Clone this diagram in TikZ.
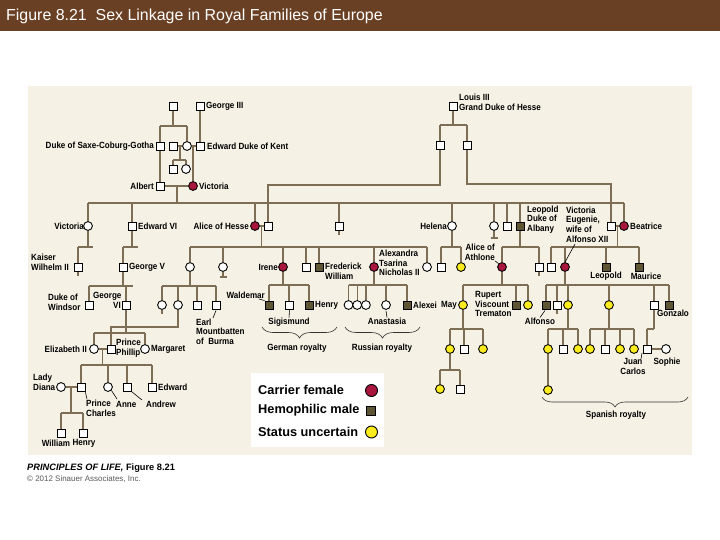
\documentclass[tikz,border=0pt]{standalone}
\usepackage{fontspec}
\setmainfont{Liberation Sans}
\newfontfamily\labfont[FakeStretch=0.9]{Liberation Sans}
\usetikzlibrary{decorations.pathreplacing}
\definecolor{headc}{RGB}{106,64,36}
\definecolor{chartbg}{RGB}{246,241,229}
\definecolor{linec}{RGB}{125,110,85}
\definecolor{carrier}{RGB}{168,22,62}
\definecolor{hemo}{RGB}{95,85,50}
\definecolor{unsure}{RGB}{252,236,30}
\pgfdeclarelayer{back}
\pgfdeclarelayer{bg}
\pgfsetlayers{back,bg,main}
\newcommand\pdrop[2]{\draw[conn] (#1) -- (#1 |- 0,#2);}
\newcommand\pbar[3]{\draw[conn] (#1 |- 0,#3) -- (#2 |- 0,#3);}
\begin{document}
\begin{tikzpicture}[x=1bp,y=-1bp,
  sq/.style={rectangle,draw=black,fill=white,minimum size=8bp,inner sep=0pt,line width=0.9bp},
  ci/.style={circle,draw=black,fill=white,minimum size=8.8bp,inner sep=0pt,line width=0.9bp},
  hm/.style={sq,fill=hemo},
  cf/.style={ci,fill=carrier},
  su/.style={ci,fill=unsure},
  conn/.style={draw=linec,line width=1.4bp},
  lead/.style={draw=black,line width=0.6bp},
  brc/.style={draw=black!80,line width=0.6bp,decorate,decoration={brace,amplitude=11bp}},
  lbl/.style={font=\labfont\bfseries\fontsize{9}{9.8}\selectfont,inner sep=0pt,align=left},
  lblr/.style={lbl,align=right},
  lblc/.style={lbl,align=center},
  legt/.style={font=\bfseries\fontsize{12.8}{14}\selectfont,inner sep=0pt,anchor=west}]
\useasboundingbox (0,0) rectangle (720,540);
\begin{pgfonlayer}{back}
\fill[white] (0,0) rectangle (720,540);
\fill[headc] (0,0) rectangle (720,31);
\fill[chartbg] (28,86) rectangle (692,455);
\end{pgfonlayer}
\node[anchor=base west,inner sep=0pt,text=white,font=\fontsize{16}{17}\selectfont] (title) at (6,21) {Figure 8.21\ \ Sex Linkage in Royal Families of Europe};

% ---------- symbols ----------
\node[sq] (g0a) at (173,106) {};
\node[sq] (g3) at (200,106) {};
\node[sq] (l3) at (453,106) {};
\node[sq] (dsc) at (160,146) {};
\node[sq] (g1b) at (173,146) {};
\node[ci] (g1c) at (187,146) {};
\node[sq] (ekent) at (200,146) {};
\node[sq] (lh1) at (440,145) {};
\node[sq] (lh2) at (467,145) {};
\node[sq] (g1d) at (173,169) {};
\node[ci] (g1e) at (186,169) {};
\node[sq] (albert) at (160,186) {};
\node[cf] (victoria) at (193,186) {};
% generation 3
\node[ci] (vicd) at (88,226) {};
\node[sq] (edw6) at (132,226) {};
\node[cf] (alice) at (255,226) {};
\node[sq] (louis4) at (268,226) {};
\node[sq] (alfred) at (339,226) {};
\node[ci] (helena) at (452,226) {};
\node[ci] (louise) at (494,226) {};
\node[sq] (arthur) at (507,226) {};
\node[hm] (leopold) at (520,226) {};
\node[sq] (henryb) at (611,226) {};
\node[cf] (beatrice) at (624,226) {};
% generation 4
\node[sq] (kaiser) at (78,267) {};
\node[sq] (george5) at (123,267) {};
\node[ci] (vich) at (190,267) {};
\node[ci] (ella) at (223,267) {};
\node[cf] (irene) at (283,267) {};
\node[sq] (ernest) at (306,267) {};
\node[hm] (fredw) at (319,267) {};
\node[cf] (alexandra) at (374,267) {};
\node[ci] (mayh) at (427,267) {};
\node[sq] (hel1) at (441,267) {};
\node[su] (hel2) at (461,267) {};
\node[cf] (alicea) at (502,267) {};
\node[sq] (charlesa) at (539,267) {};
\node[sq] (alexb) at (551,267) {};
\node[cf] (vice) at (565,267) {};
\node[hm] (leopb) at (606,267) {};
\node[hm] (maurice) at (639,267) {};
% generation 5
\node[sq] (windsor) at (89,305) {};
\node[sq] (george6) at (126,305) {};
\node[ci] (h1) at (162,305) {};
\node[ci] (aliceb) at (178,305) {};
\node[sq] (h3) at (197,305) {};
\node[sq] (mountb) at (216,305) {};
\node[hm] (waldemar) at (269,305) {};
\node[sq] (sigis) at (289,305) {};
\node[hm] (henryp) at (309,305) {};
\node[ci] (r1) at (348.5,305) {};
\node[ci] (r2) at (357.2,305) {};
\node[ci] (r3) at (365.9,305) {};
\node[ci] (anast) at (386,305) {};
\node[hm] (alexei) at (407,305) {};
\node[su] (maya) at (463,305) {};
\node[hm] (rupert) at (516,305) {};
\node[su] (a3) at (528,305) {};
\node[hm] (alfonso) at (546,305) {};
\node[sq] (s2) at (557,305) {};
\node[su] (s3) at (568,305) {};
\node[su] (s4) at (609,305) {};
\node[sq] (s5) at (654,305) {};
\node[hm] (gonzalo) at (669,305) {};
% generation 6
\node[ci] (eliz) at (94,349) {};
\node[sq] (philip) at (111,349) {};
\node[ci] (margaret) at (145,349) {};
\node[su] (m1) at (450,349) {};
\node[sq] (m2) at (464,349) {};
\node[su] (m3) at (483,349) {};
\node[su] (p1) at (548,349) {};
\node[sq] (p2) at (563,349) {};
\node[su] (p3) at (578,349) {};
\node[su] (q1) at (590,349) {};
\node[sq] (q2) at (605,349) {};
\node[su] (q3) at (620,349) {};
\node[su] (q4) at (634,349) {};
\node[sq] (juan) at (647,349) {};
\node[ci] (sophie) at (666,349) {};
% generation 7
\node[ci] (diana) at (61,387) {};
\node[sq] (charles) at (81,387) {};
\node[ci] (anne) at (108,387) {};
\node[sq] (andrew) at (127,387) {};
\node[sq] (edward) at (152,387) {};
\node[su] (n1) at (440,389) {};
\node[sq] (n2) at (460,389) {};
\node[su] (p1b) at (548,390) {};
% generation 8
\node[sq] (william) at (61,433) {};
\node[sq] (henryw) at (83,433) {};

% ---------- connectors ----------
\begin{pgfonlayer}{bg}
\pdrop{g0a}{126} \pbar{dsc}{g1c}{126} \pdrop{dsc}{126} \pdrop{g1c}{126}
\draw[conn] (g3) -- (ekent);
\draw[conn] (g1b) -- (g1c);
\draw[conn] (g1c) -- (ekent);
\coordinate (d1) at (180,146);
\pdrop{d1}{160} \pbar{g1d}{g1e}{160} \pdrop{g1d}{160} \pdrop{g1e}{160}
\coordinate (d2) at (193,146);
\draw[conn] (d2) -- (victoria);
\draw[conn] (dsc) -- (albert);
\draw[conn] (albert) -- (victoria);
\coordinate (d3) at (177,186);
\pdrop{d3}{203}
\pbar{vicd}{beatrice}{203}
\pdrop{vicd}{203} \pdrop{edw6}{203} \pdrop{alice}{203} \pdrop{alfred}{203}
\pdrop{helena}{203} \pdrop{louise}{203} \pdrop{arthur}{203} \pdrop{leopold}{203}
\pdrop{beatrice}{203}
% Hesse
\pdrop{l3}{125} \pbar{lh1}{lh2}{125} \pdrop{lh1}{125} \pdrop{lh2}{125}
\draw[conn] (lh1) -- (lh1 |- 0,185) -- (louis4 |- 0,185) -- (louis4);
\draw[conn] (lh2) -- (lh2 |- 0,184) -- (henryb |- 0,184) -- (henryb);
\draw[conn] (alfred) -- ++(0,9);
\draw[conn] (louise) -- ++(0,12) coordinate (lt) (lt) ++(-3.5,0) -- ++(7,0);
\draw[conn] (alice) -- (louis4);
\draw[conn] (henryb) -- (beatrice);
% generation 4 families
\coordinate (d4) at (261.5,226);
\pdrop{d4}{247} \pbar{vich}{mayh}{247}
\pdrop{vich}{247} \pdrop{ella}{247} \pdrop{irene}{247} \pdrop{ernest}{247}
\pdrop{fredw}{247} \pdrop{alexandra}{247} \pdrop{mayh}{247}
\draw[conn] (ella) -- ++(0,10) coordinate (et) (et) ++(-3.5,0) -- ++(7,0);
\pdrop{helena}{247} \pbar{hel1}{hel2}{247} \pdrop{hel1}{247} \pdrop{hel2}{247}
\pdrop{leopold}{247} \pbar{alicea}{charlesa}{247} \pdrop{alicea}{247} \pdrop{charlesa}{247}
\draw[conn] (charlesa) -- ++(0,9);
\coordinate (d5) at (617.5,226);
\pdrop{d5}{247} \pbar{alexb}{maurice}{247}
\pdrop{alexb}{247} \pdrop{vice}{247} \pdrop{leopb}{247} \pdrop{maurice}{247}
\pdrop{vicd}{247} \draw[conn] (kaiser |- 0,247) -- (93,247); \pdrop{kaiser}{247}
\draw[conn] (kaiser) -- ++(0,9);
\pdrop{edw6}{247} \draw[conn] (george5 |- 0,247) -- (138,247); \pdrop{george5}{247}
% generation 5 families
\pdrop{george5}{286} \draw[conn] (windsor |- 0,286) -- (133,286);
\pdrop{windsor}{286} \pdrop{george6}{286}
\pdrop{vich}{286} \pbar{h1}{mountb}{286}
\pdrop{h1}{286} \pdrop{aliceb}{286} \pdrop{h3}{286} \pdrop{mountb}{286}
\draw[conn] (h1) -- ++(0,9);
\pdrop{irene}{285} \pbar{waldemar}{henryp}{285}
\pdrop{waldemar}{285} \pdrop{sigis}{285} \pdrop{henryp}{285}
\pdrop{alexandra}{285} \pbar{r1}{alexei}{285}
\pdrop{r1}{285} \pdrop{r2}{285} \pdrop{r3}{285} \pdrop{anast}{285} \pdrop{alexei}{285}
\pdrop{alicea}{285} \pbar{maya}{a3}{285}
\pdrop{maya}{285} \pdrop{rupert}{285} \pdrop{a3}{285}
\pdrop{vice}{285} \pbar{alfonso}{gonzalo}{285}
\pdrop{alfonso}{285} \pdrop{s2}{285} \pdrop{s3}{285} \pdrop{s4}{285} \pdrop{s5}{285} \pdrop{gonzalo}{285}
\draw[conn] (s2) -- ++(0,9);
% generation 6 families
\draw[conn] (aliceb) -- (aliceb |- 0,327) -- (philip |- 0,327) -- (philip);
\pdrop{george6}{333} \pbar{eliz}{margaret}{333} \pdrop{eliz}{333} \pdrop{margaret}{333}
\draw[conn] (eliz) -- (philip);
\coordinate (d6) at (102.5,349);
\pdrop{d6}{365} \pbar{charles}{edward}{365}
\pdrop{charles}{365} \pdrop{anne}{365} \pdrop{andrew}{365} \pdrop{edward}{365}
\draw[conn] (diana) -- (charles);
\coordinate (d7) at (71,387);
\pdrop{d7}{413} \pbar{william}{henryw}{413} \pdrop{william}{413} \pdrop{henryw}{413}
\pdrop{maya}{329} \pbar{m1}{m3}{329} \pdrop{m1}{329} \pdrop{m2}{329} \pdrop{m3}{329}
\pdrop{m1}{370} \pbar{n1}{n2}{370} \pdrop{n1}{370} \pdrop{n2}{370}
\pdrop{s3}{329} \pbar{p1}{p3}{329} \pdrop{p1}{329} \pdrop{p2}{329} \pdrop{p3}{329}
\draw[conn] (p1) -- (p1b);
\pdrop{s4}{329} \pbar{q1}{q4}{329} \pdrop{q1}{329} \pdrop{q2}{329} \pdrop{q3}{329} \pdrop{q4}{329}
\pdrop{s5}{329} \pbar{juan}{s5}{329} \pdrop{juan}{329}
\draw[conn] (juan) -- (sophie);
\end{pgfonlayer}

% ---------- labels ----------
\node[lbl,anchor=west] (tg3) at (206,106) {George III};
\node[lbl,anchor=west] (tl3) at (459,102.5) {Louis III\\Grand Duke of Hesse};
\node[lbl,anchor=east] (tdsc) at (154,146) {Duke of Saxe-Coburg-Gotha};
\node[lbl,anchor=west] (tek) at (207,146) {Edward Duke of Kent};
\node[lbl,anchor=east] (tal) at (154,186) {Albert};
\node[lbl,anchor=west] (tvi) at (199,186) {Victoria};
\node[lbl,anchor=east] (tvd) at (84,226) {Victoria};
\node[lbl,anchor=west] (te6) at (138,226) {Edward VI};
\node[lbl,anchor=east] (tah) at (249,226) {Alice of Hesse};
\node[lbl,anchor=east] (the) at (447,226) {Helena};
\node[lbl,anchor=west] (tle) at (527,219.5) {Leopold\\Duke of\\Albany};
\node[lbl,anchor=west] (tbe) at (630,226) {Beatrice};
\node[lbl,anchor=west] (tve) at (566,224.5) {Victoria\\Eugenie,\\wife of\\Alfonso XII};
\node[lbl,anchor=west] (tka) at (31,262) {Kaiser\\Wilhelm II};
\node[lbl,anchor=west] (tg5) at (129,267) {George V};
\node[lbl,anchor=east] (tir) at (278,267) {Irene};
\node[lbl,anchor=west] (tfw) at (325,271.5) {Frederick\\William};
\node[lbl,anchor=west] (tax) at (379,263) {Alexandra\\Tsarina\\Nicholas II};
\node[lblr,anchor=east] (taa) at (495,252.5) {Alice of\\Athlone};
\node[lblc] (tlb) at (606,276) {Leopold};
\node[lblc] (tma) at (646,276) {Maurice};
\node[lbl,anchor=west] (twi) at (48,302) {Duke of\\Windsor};
\node[lbl,anchor=west] (tg6a) at (93,296) {George};
\node[lbl,anchor=east] (tg6b) at (121,305.5) {VI};
\node[lbl,anchor=west] (tmo) at (196,331.7) {Earl\\Mountbatten\\of\ \ Burma};
\node[lbl,anchor=east] (twa) at (265,295) {Waldemar};
\node[lbl,anchor=west] (the2) at (315,305) {Henry};
\node[lblc] (tsi) at (289,322) {Sigismund};
\node[lbl,anchor=west] (tae) at (413,305) {Alexei};
\node[lblc] (tan) at (387,321) {Anastasia};
\node[lbl,anchor=east] (tmy) at (457,305) {May};
\node[lbl,anchor=west] (tru) at (475,304) {Rupert\\Viscount\\Trematon};
\node[lblc] (taf) at (540,321) {Alfonso};
\node[lblc] (tgo) at (673,313) {Gonzalo};
\node[lblc] (tger) at (297,348) {German royalty};
\node[lblc] (trus) at (382,348) {Russian royalty};
\node[lbl,anchor=east] (tel) at (87,349) {Elizabeth II};
\node[lbl,anchor=west] (tph) at (116,348) {Prince\\Phillip};
\node[lbl,anchor=west] (tmg) at (151,349) {Margaret};
\node[lbl,anchor=west] (tdi) at (33,382.5) {Lady\\Diana};
\node[lbl,anchor=west] (tch) at (86,408.5) {Prince\\Charles};
\node[lbl,anchor=west] (tan2) at (116,404) {Anne};
\node[lbl,anchor=west] (tand) at (146,404) {Andrew};
\node[lbl,anchor=west] (ted) at (158,387) {Edward};
\node[lblc] (twl) at (56,443) {William};
\node[lblc] (thw) at (84,443) {Henry};
\node[lblc] (tjc) at (633,366.5) {Juan\\Carlos};
\node[lblc] (tso) at (667,361.7) {Sophie};
\node[lblc] (tsp) at (616,415) {Spanish royalty};

% leader lines
\draw[lead] (alicea.north west) -- (taa.south east);
\draw[lead] (vice.north) -- (575,244);
\draw[lead] (waldemar.north west) -- (259,299);
\draw[lead] (sigis.south) ++(0.5,1) -- (tsi.north);
\draw[lead] (anast.south) ++(0,1) -- (tan.north);
\draw[lead] (alfonso.south) ++(-1,1) -- (taf.north);
\draw[lead] (mountb.south) ++(0,1) -- (213,318);
\draw[lead] (juan.south west) ++(-0.5,-0.5) -- (641,359);
\draw[lead] (charles.south east) ++(0,1) -- (87,399);
\draw[lead] (anne.south east) -- (117,399);
\draw[lead] (andrew.south east) -- (142,400);

% braces
\draw[brc] (337,327) -- (262,327);
\draw[brc] (420,327) -- (345,327);
\draw[brc,decoration={amplitude=10bp}] (688,397) -- (542,397);

% legend
\node[fill=white,minimum width=133bp,minimum height=74bp,anchor=north west,inner sep=0pt] (legend) at (251,373) {};
\node[legt] (lg1) at (258,389.5) {Carrier female};
\node[legt] (lg2) at (258,410.5) {Hemophilic male};
\node[legt] (lg3) at (258,431.5) {Status uncertain};
\node[cf,minimum size=12bp] (ls1) at (371.5,390.5) {};
\node[hm,minimum size=9bp] (ls2) at (371,411) {};
\node[su,minimum size=12bp] (ls3) at (371.5,432) {};

% footer
\node[anchor=base west,inner sep=0pt,font=\bfseries\fontsize{9.3}{10}\selectfont] (foot1) at (27,470) {\textit{PRINCIPLES OF LIFE,} Figure 8.21};
\node[anchor=base west,inner sep=0pt,font=\fontsize{8}{9}\selectfont,text=black!65] (foot2) at (27,481.5) {\textcopyright{} 2012 Sinauer Associates, Inc.};
\end{tikzpicture}
\end{document}
